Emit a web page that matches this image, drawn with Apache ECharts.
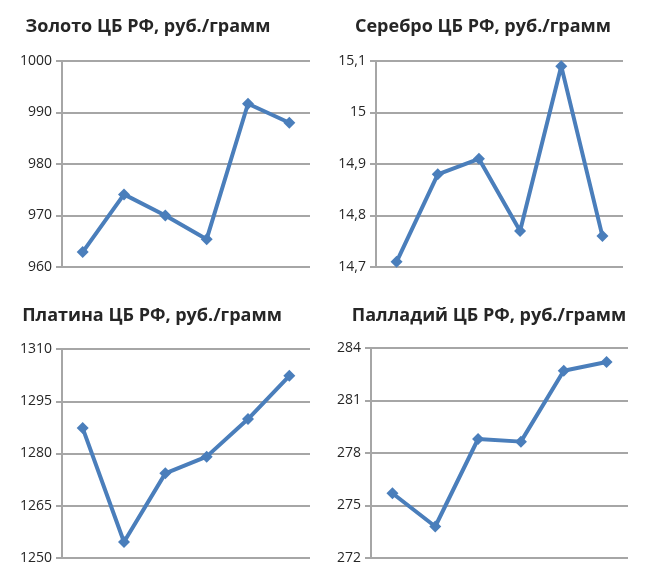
<!DOCTYPE html>
<html><head><meta charset="utf-8">
<script src="https://cdn.jsdelivr.net/npm/echarts@6/dist/echarts.min.js"></script>
<style>html,body{margin:0;padding:0;background:#fff}#c{width:645px;height:566px}</style>
</head><body><div id="c"></div>
<script>
const categories = ['1','2','3','4','5','6'];
const titles = ['Золото ЦБ РФ, руб./грамм','Серебро ЦБ РФ, руб./грамм','Платина ЦБ РФ, руб./грамм','Палладий ЦБ РФ, руб./грамм'];
const gold = [962.9, 974.1, 970.0, 965.4, 991.7, 988.0];
const silver = [14.71, 14.88, 14.91, 14.77, 15.09, 14.76];
const platinum = [1287.3, 1254.6, 1274.3, 1279.1, 1289.9, 1302.3];
const palladium = [275.7, 273.8, 278.8, 278.65, 282.7, 283.2];
const yMin = [960, 14.7, 1250, 272];
const yMax = [1000, 15.1, 1310, 284];
const yStep = [10, 0.1, 15, 3];

const grids = [
  {left:62, top:61, width:248, height:206},
  {left:376, top:61, width:247, height:206},
  {left:62, top:349, width:248, height:209},
  {left:371, top:348, width:257, height:210}
];
const titlePos = [{x:143, y:22},{x:478, y:22},{x:147, y:311},{x:484, y:311}];
const seriesData = [gold, silver, platinum, palladium];
const blue = '#4a7ebb', grid = '#a6a6a6';

const option = {
  animation:false,
  title: titles.map((t,i)=>({text:t, left:titlePos[i].x, top:titlePos[i].y, textAlign:'center', textVerticalAlign:'middle',
    textStyle:{fontFamily:'Open Sans', fontWeight:'bold', fontSize:18, color:'#262626'}})),
  grid: grids,
  xAxis: grids.map((g,i)=>({type:'category', gridIndex:i, data:categories, boundaryGap:true,
    axisLine:{show:false}, axisTick:{show:false}, axisLabel:{show:false}, splitLine:{show:false}})),
  yAxis: grids.map((g,i)=>({type:'value', gridIndex:i, min:yMin[i], max:yMax[i], interval:yStep[i],
    axisLine:{show:true, lineStyle:{color:grid, width:2}},
    axisTick:{show:true, length:6, lineStyle:{color:grid, width:2}},
    splitLine:{show:true, lineStyle:{color:grid, width:2}},
    axisLabel:{margin:10, fontFamily:'Open Sans', fontSize:14, color:'#262626',
      formatter:v=>String(Math.round(v*10)/10).replace('.',',')}})),
  series: seriesData.map((d,i)=>({type:'line', xAxisIndex:i, yAxisIndex:i, data:d,
    symbol:'diamond', symbolSize:12, itemStyle:{color:blue}, lineStyle:{color:blue, width:4}}))
};
echarts.init(document.getElementById('c')).setOption(option);
</script></body></html>
